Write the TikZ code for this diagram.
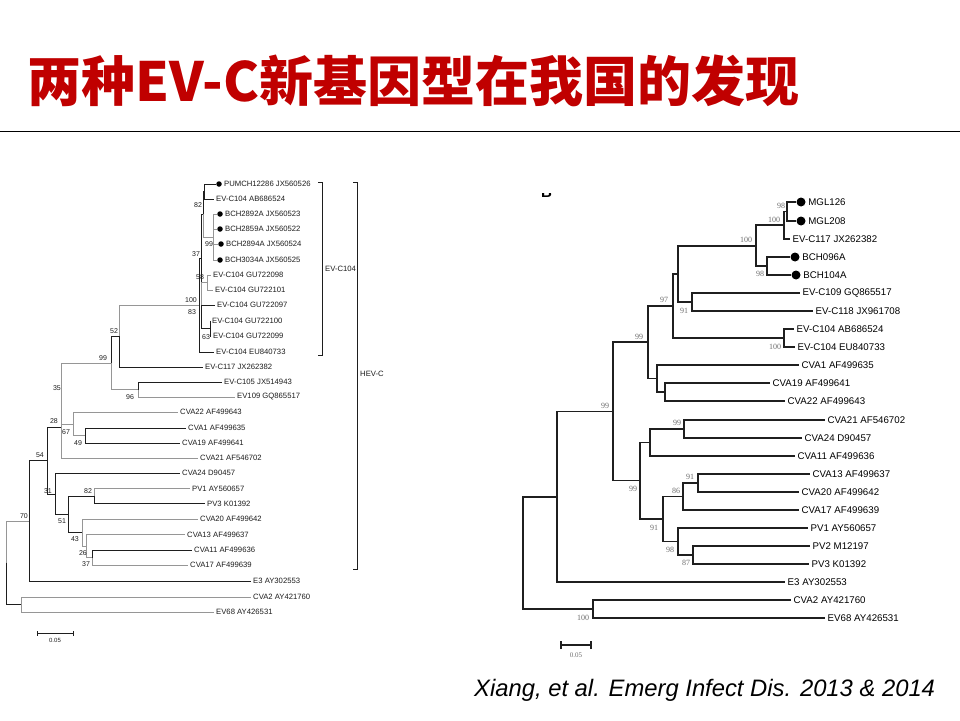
\documentclass[tikz,border=0pt]{standalone}
\usepackage{fontspec}
\newfontfamily\arialf{Liberation Sans}
\newfontfamily\timesf{Liberation Serif}
\newfontfamily\cjkf{Noto Sans CJK SC}
\definecolor{titlered}{RGB}{192,0,0}
\definecolor{lgrey}{RGB}{150,150,150}
\definecolor{ldark}{RGB}{30,30,30}
\definecolor{bsgrey}{RGB}{110,110,110}
\tikzset{
  lb/.style={draw=ldark, line width=0.9pt},
  lg/.style={draw=lgrey, line width=0.9pt},
  rt/.style={draw=black!88, line width=1.7pt},
  brk/.style={draw=ldark, line width=0.8pt},
  ltip/.style={anchor=west, inner xsep=2pt, inner ysep=0pt, font=\arialf\fontsize{7.7}{8}\selectfont, text=ldark},
  rtip/.style={anchor=west, inner xsep=2.5pt, inner ysep=0pt, font=\arialf\fontsize{9.7}{10}\selectfont, text=black},
  lbs/.style={inner sep=0pt, font=\arialf\fontsize{7}{7}\selectfont, text=ldark},
  rbs/.style={inner sep=0pt, font=\timesf\fontsize{8}{8}\selectfont, text=bsgrey},
  ldot/.style={circle, fill=black, inner sep=0pt, minimum size=5.5pt},
  rdot/.style={circle, fill=black, inner sep=0pt, minimum size=9pt},
}
\begin{document}
\begin{tikzpicture}[x=1pt,y=-1pt]
\fill[white] (0,0) rectangle (960,720);
\useasboundingbox (0,0) rectangle (960,720);

% title and rule
\node[anchor=west, inner sep=0pt, text=titlered, font=\cjkf\bfseries\fontsize{54}{60}\selectfont] (title) at (27,81) {两种EV-C新基因型在我国的发现};
\coordinate (hl1) at (0,131.5);
\coordinate (hl2) at (960,131.5);
\draw[line width=1.3pt] (hl1) -- (hl2);

% ================= LEFT TREE =================
\coordinate (Lroot) at (6,562.5);
\coordinate (Lout) at (21,604.5);
\coordinate (L70) at (29,521);
\coordinate (L54) at (47,460.5);
\coordinate (L28) at (61,427);
\coordinate (L35) at (61,393.5);
\coordinate (L99) at (111,363);
\coordinate (L52) at (119,336);
\coordinate (L100) at (199,305);
\coordinate (L37) at (201,258);
\coordinate (L82) at (203,214);
\coordinate (LA) at (204,191.5);
\coordinate (L99b) at (213,237);
\coordinate (L83) at (201,305);
\coordinate (L58) at (207,282.5);
\coordinate (L63) at (210,328.5);
\coordinate (L96) at (138,389.5);
\coordinate (L67) at (73,424);
\coordinate (L49) at (85,435.5);
\coordinate (L31) at (55,494);
\coordinate (L51) at (68,514.5);
\coordinate (L82p) at (94,496);
\coordinate (L43) at (82,532.5);
\coordinate (L26) at (86,546);
\coordinate (L37b) at (92,557.5);

\node[ldot] (t1d) at (219,184) {};
\node[ltip] (t1) at (t1d.east) {PUMCH12286 JX560526};
\node[ltip] (t2) at (214,199) {EV-C104 AB686524};
\node[ldot] (t3d) at (220,214) {};
\node[ltip] (t3) at (t3d.east) {BCH2892A JX560523};
\node[ldot] (t4d) at (220,229) {};
\node[ltip] (t4) at (t4d.east) {BCH2859A JX560522};
\node[ldot] (t5d) at (221,244) {};
\node[ltip] (t5) at (t5d.east) {BCH2894A JX560524};
\node[ldot] (t6d) at (220,260) {};
\node[ltip] (t6) at (t6d.east) {BCH3034A JX560525};
\node[ltip] (t7) at (211,275) {EV-C104 GU722098};
\node[ltip] (t8) at (213,290) {EV-C104 GU722101};
\node[ltip] (t9) at (215,305) {EV-C104 GU722097};
\node[ltip] (t10) at (210,321) {EV-C104 GU722100};
\node[ltip] (t11) at (211,336) {EV-C104 GU722099};
\node[ltip] (t12) at (214,352) {EV-C104 EU840733};
\node[ltip] (t13) at (203,367) {EV-C117 JX262382};
\node[ltip] (t14) at (222,382) {EV-C105 JX514943};
\node[ltip] (t15) at (235,397) {EV109 GQ865517};
\node[ltip] (t16) at (178,412) {CVA22 AF499643};
\node[ltip] (t17) at (186,428) {CVA1 AF499635};
\node[ltip] (t18) at (180,443) {CVA19 AF499641};
\node[ltip] (t19) at (198,458) {CVA21 AF546702};
\node[ltip] (t20) at (180,473) {CVA24 D90457};
\node[ltip] (t21) at (190,488.5) {PV1 AY560657};
\node[ltip] (t22) at (205,503.5) {PV3 K01392};
\node[ltip] (t23) at (198,519) {CVA20 AF499642};
\node[ltip] (t24) at (185,534.5) {CVA13 AF499637};
\node[ltip] (t25) at (192,550) {CVA11 AF499636};
\node[ltip] (t26) at (188,565) {CVA17 AF499639};
\node[ltip] (t27) at (251,581) {E3 AY302553};
\node[ltip] (t28) at (251,597) {CVA2 AY421760};
\node[ltip] (t29) at (214,612) {EV68 AY426531};

\draw[lg] (Lroot) |- (L70);
\draw[lb] (Lroot) |- (Lout);
\draw[lg] (Lout) |- (t28.west);
\draw[lg] (Lout) |- (t29.west);
\draw[lb] (L70) |- (L54);
\draw[lb] (L70) |- (t27.west);
\draw[lb] (L54) |- (L28);
\draw[lb] (L54) |- (L31);
\draw[lg] (L28) |- (L35);
\draw[lg] (L28) |- (t19.west);
\draw[lg] (L35) |- (L99);
\draw[lg] (L35) |- (L67);
\draw[lb] (L99) |- (L52);
\draw[lg] (L99) |- (L96);
\draw[lg] (L52) |- (L100);
\draw[lb] (L52) |- (t13.west);
\draw[lb] (L100) |- (L37);
\draw[lb] (L100) |- (t12.west);
\draw[lb] (L37) |- (L82);
\draw[lb] (L37) |- (L83);
\draw[lb] (L82) |- (LA);
\draw[lg] (L82) |- (L99b);
\draw[lb] (LA) |- (t1d.west);
\draw[lb] (LA) |- (t2.west);
\draw[lg] (L99b) |- (t3d.west);
\draw[lg] (L99b) |- (t4d.west);
\draw[lg] (L99b) |- (t5d.west);
\draw[lg] (L99b) |- (t6d.west);
\draw[lg] (L83) |- (L58);
\draw[lb] (L83) |- (t9.west);
\draw[lb] (L83) |- (L63);
\draw[lg] (L58) |- (t7.west);
\draw[lg] (L58) |- (t8.west);
\draw[lb] (L63) |- (t10.west);
\draw[lb] (L63) |- (t11.west);
\draw[lb] (L96) |- (t14.west);
\draw[lg] (L96) |- (t15.west);
\draw[lg] (L67) |- (t16.west);
\draw[lg] (L67) |- (L49);
\draw[lb] (L49) |- (t17.west);
\draw[lb] (L49) |- (t18.west);
\draw[lb] (L31) |- (t20.west);
\draw[lb] (L31) |- (L51);
\draw[lb] (L51) |- (L82p);
\draw[lb] (L51) |- (L43);
\draw[lg] (L82p) |- (t21.west);
\draw[lb] (L82p) |- (t22.west);
\draw[lg] (L43) |- (t23.west);
\draw[lg] (L43) |- (L26);
\draw[lg] (L26) |- (t24.west);
\draw[lg] (L26) |- (L37b);
\draw[lb] (L37b) |- (t25.west);
\draw[lg] (L37b) |- (t26.west);

% left bootstrap values
\node[lbs] (lb1) at (198,205) {82};
\node[lbs] (lb2) at (209,244) {99};
\node[lbs] (lb3) at (196,254) {37};
\node[lbs] (lb4) at (200,277) {58};
\node[lbs] (lb5) at (191,300) {100};
\node[lbs] (lb6) at (192,312) {83};
\node[lbs] (lb7) at (206,337) {63};
\node[lbs] (lb8) at (114,331) {52};
\node[lbs] (lb9) at (103,358) {99};
\node[lbs] (lb10) at (57,388) {35};
\node[lbs] (lb11) at (130,397) {96};
\node[lbs] (lb12) at (54,421) {28};
\node[lbs] (lb13) at (66,432) {67};
\node[lbs] (lb14) at (78,443) {49};
\node[lbs] (lb15) at (40,455) {54};
\node[lbs] (lb16) at (88,491) {82};
\node[lbs] (lb17) at (48,491) {31};
\node[lbs] (lb18) at (62,521) {51};
\node[lbs] (lb19) at (24,516) {70};
\node[lbs] (lb20) at (75,539) {43};
\node[lbs] (lb21) at (83,553) {26};
\node[lbs] (lb22) at (86,564) {37};

% brackets
\coordinate (Bk1a) at (318,182);
\coordinate (Bk1b) at (322,182);
\coordinate (Bk1c) at (322,355);
\coordinate (Bk1d) at (318,355);
\draw[brk] (Bk1a) -- (Bk1b) -- (Bk1c) -- (Bk1d);
\node[ltip] (Bk1l) at (323,269) {EV-C104};
\coordinate (Bk2a) at (353,182);
\coordinate (Bk2b) at (357,182);
\coordinate (Bk2c) at (357,569);
\coordinate (Bk2d) at (353,569);
\draw[brk] (Bk2a) -- (Bk2b) -- (Bk2c) -- (Bk2d);
\node[ltip] (Bk2l) at (358,374) {HEV-C};

% left scale bar
\coordinate (Ls1) at (37,633);
\coordinate (Ls2) at (73,633);
\draw[lb] (Ls1) -- (Ls2);
\draw[lb] ([yshift=-2.5pt]Ls1) -- ([yshift=2.5pt]Ls1);
\draw[lb] ([yshift=-2.5pt]Ls2) -- ([yshift=2.5pt]Ls2);
\node[lbs, font=\arialf\fontsize{6}{6}\selectfont] (Lsl) at (55,640) {0.05};

% ================= RIGHT TREE =================
\begin{scope}
\clip (535,193) rectangle (560,201);
\node[anchor=base west, inner sep=0pt, font=\arialf\bfseries\fontsize{15}{15}\selectfont] (Blab) at (541,197.5) {B};
\end{scope}

\coordinate (Rroot) at (523,552.9);
\coordinate (RB) at (557,496.7);
\coordinate (Rout) at (593,609);
\coordinate (R99a) at (613,411.4);
\coordinate (R99c) at (648,342.3);
\coordinate (R99d) at (640,480.5);
\coordinate (R97) at (673,306);
\coordinate (Rx) at (678,274);
\coordinate (R100b) at (756,245.8);
\coordinate (R100m) at (784,225.3);
\coordinate (R98m) at (787,211.5);
\coordinate (R98b) at (767,266);
\coordinate (R91) at (692,302);
\coordinate (R104) at (784,338);
\coordinate (RCVA) at (657,378.5);
\coordinate (R19) at (665,392);
\coordinate (R11) at (650,442.5);
\coordinate (R99e) at (684,429);
\coordinate (R91b) at (663,519);
\coordinate (R86) at (683,496.5);
\coordinate (R91c) at (698,483);
\coordinate (R98p) at (678,541.5);
\coordinate (R87) at (693,555);

\node[rdot] (r1d) at (801,202) {};
\node[rtip] (r1) at (r1d.east) {MGL126};
\node[rdot] (r2d) at (801,221) {};
\node[rtip] (r2) at (r2d.east) {MGL208};
\node[rtip] (r3) at (790,239) {EV-C117 JX262382};
\node[rdot] (r4d) at (795,257) {};
\node[rtip] (r4) at (r4d.east) {BCH096A};
\node[rdot] (r5d) at (796,275) {};
\node[rtip] (r5) at (r5d.east) {BCH104A};
\node[rtip] (r6) at (800,293) {EV-C109 GQ865517};
\node[rtip] (r7) at (813,311) {EV-C118 JX961708};
\node[rtip] (r8) at (794,329) {EV-C104 AB686524};
\node[rtip] (r9) at (795,347) {EV-C104 EU840733};
\node[rtip] (r10) at (799,365) {CVA1 AF499635};
\node[rtip] (r11) at (770,383) {CVA19 AF499641};
\node[rtip] (r12) at (785,401) {CVA22 AF499643};
\node[rtip] (r13) at (825,420) {CVA21 AF546702};
\node[rtip] (r14) at (802,438) {CVA24 D90457};
\node[rtip] (r15) at (795,456) {CVA11 AF499636};
\node[rtip] (r16) at (810,474) {CVA13 AF499637};
\node[rtip] (r17) at (799,492) {CVA20 AF499642};
\node[rtip] (r18) at (799,510) {CVA17 AF499639};
\node[rtip] (r19) at (808,528) {PV1 AY560657};
\node[rtip] (r20) at (810,546) {PV2 M12197};
\node[rtip] (r21) at (809,564) {PV3 K01392};
\node[rtip] (r22) at (785,582) {E3 AY302553};
\node[rtip] (r23) at (791,600) {CVA2 AY421760};
\node[rtip] (r24) at (825,618) {EV68 AY426531};

\draw[rt] (Rroot) |- (RB);
\draw[rt] (Rroot) |- (Rout);
\draw[rt] (Rout) |- (r23.west);
\draw[rt] (Rout) |- (r24.west);
\draw[rt] (RB) |- (R99a);
\draw[rt] (RB) |- (r22.west);
\draw[rt] (R99a) |- (R99c);
\draw[rt] (R99a) |- (R99d);
\draw[rt] (R99c) |- (R97);
\draw[rt] (R99c) |- (RCVA);
\draw[rt] (R97) |- (Rx);
\draw[rt] (R97) |- (R104);
\draw[rt] (Rx) |- (R100b);
\draw[rt] (Rx) |- (R91);
\draw[rt] (R100b) |- (R100m);
\draw[rt] (R100b) |- (R98b);
\draw[rt] (R100m) |- (R98m);
\draw[rt] (R100m) |- (r3.west);
\draw[rt] (R98m) |- (r1d.west);
\draw[rt] (R98m) |- (r2d.west);
\draw[rt] (R98b) |- (r4d.west);
\draw[rt] (R98b) |- (r5d.west);
\draw[rt] (R91) |- (r6.west);
\draw[rt] (R91) |- (r7.west);
\draw[rt] (R104) |- (r8.west);
\draw[rt] (R104) |- (r9.west);
\draw[rt] (RCVA) |- (r10.west);
\draw[rt] (RCVA) |- (R19);
\draw[rt] (R19) |- (r11.west);
\draw[rt] (R19) |- (r12.west);
\draw[rt] (R99d) |- (R11);
\draw[rt] (R99d) |- (R91b);
\draw[rt] (R11) |- (R99e);
\draw[rt] (R11) |- (r15.west);
\draw[rt] (R99e) |- (r13.west);
\draw[rt] (R99e) |- (r14.west);
\draw[rt] (R91b) |- (R86);
\draw[rt] (R91b) |- (R98p);
\draw[rt] (R86) |- (R91c);
\draw[rt] (R86) |- (r18.west);
\draw[rt] (R91c) |- (r16.west);
\draw[rt] (R91c) |- (r17.west);
\draw[rt] (R98p) |- (r19.west);
\draw[rt] (R98p) |- (R87);
\draw[rt] (R87) |- (r20.west);
\draw[rt] (R87) |- (r21.west);

% right bootstrap values
\node[rbs] (rb1) at (781,206) {98};
\node[rbs] (rb2) at (774,220) {100};
\node[rbs] (rb3) at (746,240) {100};
\node[rbs] (rb4) at (760,274) {98};
\node[rbs] (rb5) at (664,300) {97};
\node[rbs] (rb6) at (684,311) {91};
\node[rbs] (rb7) at (775,347) {100};
\node[rbs] (rb8) at (639,337) {99};
\node[rbs] (rb9) at (605,406) {99};
\node[rbs] (rb10) at (677,423) {99};
\node[rbs] (rb11) at (633,489) {99};
\node[rbs] (rb12) at (690,477) {91};
\node[rbs] (rb13) at (676,491) {86};
\node[rbs] (rb14) at (654,528) {91};
\node[rbs] (rb15) at (670,550) {98};
\node[rbs] (rb16) at (686,563) {87};
\node[rbs] (rb17) at (583,618) {100};

% right scale bar
\coordinate (Rs1) at (561,645);
\coordinate (Rs2) at (591,645);
\draw[rt, line width=1.5pt] (Rs1) -- (Rs2);
\draw[rt, line width=1.3pt] ([yshift=-4pt]Rs1) -- ([yshift=4pt]Rs1);
\draw[rt, line width=1.3pt] ([yshift=-4pt]Rs2) -- ([yshift=4pt]Rs2);
\node[rbs, font=\timesf\fontsize{7}{7}\selectfont] (Rsl) at (576,655) {0.05};

% citation
\node[anchor=base west, inner sep=0pt, font=\arialf\itshape\fontsize{23.8}{28}\selectfont] (cite) at (474,696) {Xiang, et al. Emerg Infect Dis. 2013 \& 2014};
\end{tikzpicture}
\end{document}
